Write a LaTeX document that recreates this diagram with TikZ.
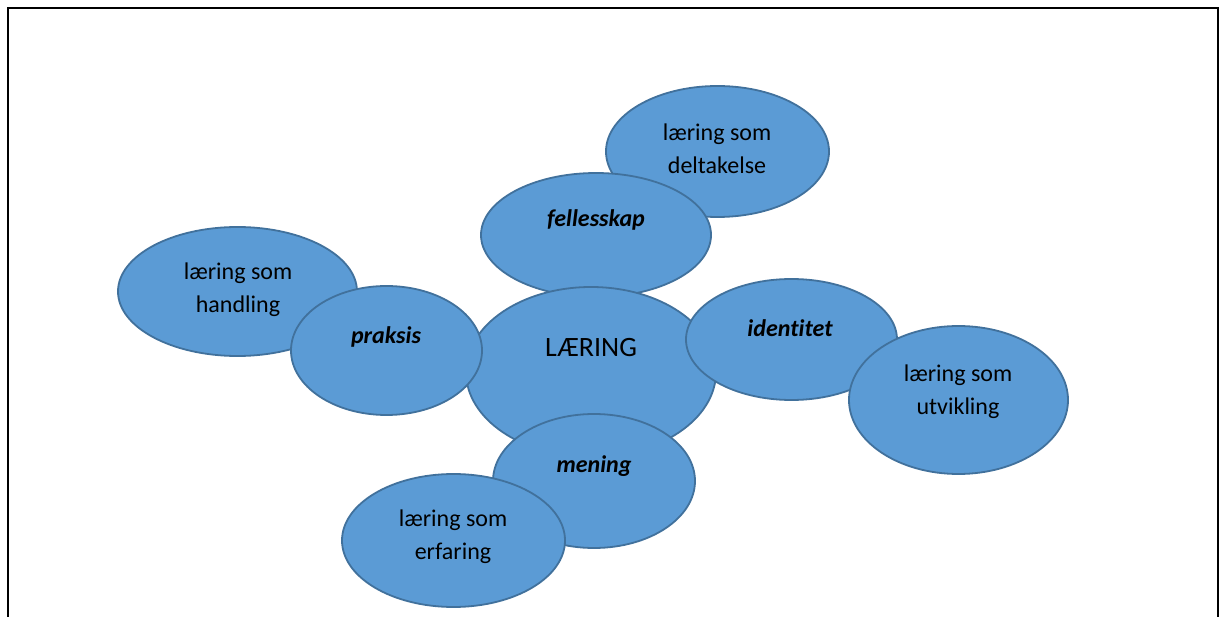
\documentclass[tikz,border=0pt]{standalone}
\usepackage{fontspec}
\setmainfont{Carlito}[Ligatures=NoCommon]
\usetikzlibrary{shapes.geometric}
\definecolor{bubblefill}{HTML}{5B9BD5}
\definecolor{bubbleline}{HTML}{41719C}
\tikzset{
  bubble/.style={ellipse, draw=bubbleline, fill=bubblefill, line width=1.8pt, inner sep=0pt},
  txt/.style={align=center, inner sep=0pt, font=\fontsize{24}{33}\selectfont},
  keytxt/.style={align=center, inner sep=0pt, font=\fontsize{24}{33}\selectfont\bfseries\itshape},
  bigtxt/.style={align=center, inner sep=0pt, font=\fontsize{28}{33}\selectfont},
  frame/.style={line width=2.6pt, black}
}
\begin{document}
\begin{tikzpicture}[x=1pt, y=-1pt]
\useasboundingbox (0,0) rectangle (1221,617);
\fill[white] (0,0) rectangle (1221,617);
\draw[frame] (8,617) -- (8,8) -- (1218,8) -- (1218,617);

\node[bubble, minimum width=223pt, minimum height=131pt] (delt) at (717.5,151.5) {};
\node[txt] (deltT) at (717,149) {læring som\\deltakelse};

\node[bubble, minimum width=230pt, minimum height=124pt] (fell) at (596,235) {};
\node[keytxt] (fellT) at (596,220) {fellesskap};

\node[bubble, minimum width=250pt, minimum height=170pt] (laer) at (591,372) {};
\node[bigtxt] (laerT) at (591,348) {LÆRING};

\node[bubble, minimum width=239pt, minimum height=129pt] (hand) at (237.5,291.5) {};
\node[txt] (handT) at (238,290) {læring som\\handling};

\node[bubble, minimum width=191pt, minimum height=129pt] (prak) at (386.5,350.5) {};
\node[keytxt] (prakT) at (386,337) {praksis};

\node[bubble, minimum width=211pt, minimum height=121pt] (iden) at (791.5,339.5) {};
\node[keytxt] (idenT) at (790,328) {identitet};

\node[bubble, minimum width=219pt, minimum height=148pt] (utvi) at (958.5,400) {};
\node[txt] (utviT) at (958,392) {læring som\\utvikling};

\node[bubble, minimum width=202pt, minimum height=134pt] (meni) at (594,481) {};
\node[keytxt] (meniT) at (594,466) {mening};

\node[bubble, minimum width=223pt, minimum height=133pt] (erfa) at (453.5,540.5) {};
\node[txt] (erfaT) at (453,537) {læring som\\erfaring};
\end{tikzpicture}
\end{document}
